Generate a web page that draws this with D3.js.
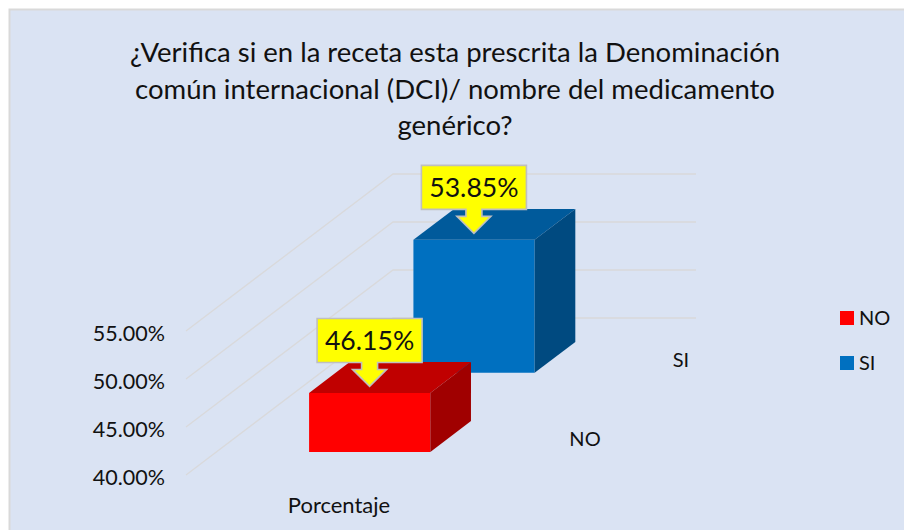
<!DOCTYPE html>
<html><head><meta charset="utf-8">
<script src="https://cdn.jsdelivr.net/npm/d3@7"></script>
<style>html,body{margin:0;padding:0;background:#fff;overflow:hidden}svg{display:block}text{font-family:Lato,"Open Sans",sans-serif;fill:#111}</style>
</head><body><div id="c"></div>
<script>
const seriesNames = ["NO", "SI"];
const seriesValues = [46.15, 53.85];
const category = ["Porcentaje"];
const yTicks = [40, 45, 50, 55];
const titleLines = ["¿Verifica si en la receta esta prescrita la Denominación", "común internacional (DCI)/ nombre del medicamento", "genérico?"];
const frontColors = ["#ff0000", "#0070c0"];
const topColors = ["#c00000", "#005a9b"];
const sideColors = ["#a00000", "#004a80"];

const svg = d3.select("#c").append("svg").attr("width", 904).attr("height", 530);
svg.append("rect").attr("x", 9.5).attr("y", 9.5).attr("width", 900).attr("height", 530)
  .attr("fill", "#dae3f3").attr("stroke", "#d9d9d9").attr("stroke-width", 2);

svg.append("g").selectAll("text").data(titleLines).join("text")
  .attr("x", 455).attr("y", (d, i) => 62 + i * 36.5).attr("text-anchor", "middle")
  .attr("font-size", 27.5).text(d => d);

// 3D projection: x along the category, y the value, z into the depth
const y = d3.scaleLinear().domain([40, 55]).range([475, 331]);
const xCat = d3.scaleBand().domain(category).range([0, 303]).paddingInner(0).paddingOuter(0.75).align(0.51);
const zDepth = d3.scaleBand().domain(seriesNames).range([0, 1]).paddingInner(0.61).paddingOuter(0.297).align(0.49);
const originX = 186, depthDx = 207, depthDy = -157;
const proj = (u, v, t) => [originX + u + t * depthDx, y(v) + t * depthDy];
const poly = pts => pts.map(p => p.join(",")).join(" ");

const grid = svg.append("g").attr("fill", "none").attr("stroke", "#d9d9d9").attr("stroke-width", 1.3).attr("opacity", 0.9);
yTicks.forEach(v => {
  grid.append("polyline").attr("points", poly([proj(0, v, 0), proj(0, v, 1), proj(303, v, 1)]));
});

const axis = d3.axisLeft(y).tickValues(yTicks).tickSize(0).tickPadding(0).tickFormat(d => d.toFixed(2) + "%");
const ax = svg.append("g").attr("transform", "translate(165,0)").call(axis);
ax.select(".domain").remove();
ax.selectAll("text").attr("font-size", 21.5).attr("dy", "0.42em").style("font-family", "Lato").style("fill", "#111");

// Bars, back series first
const u0 = xCat(category[0]) , u1 = u0 + xCat.bandwidth();
const bars = seriesNames.map((s, i) => ({s, i, v: seriesValues[i]}));
bars.slice().reverse().forEach(b => {
  const t0 = zDepth(b.s), t1 = t0 + zDepth.bandwidth();
  const g = svg.append("g");
  g.append("polygon").attr("fill", frontColors[b.i])
    .attr("points", poly([proj(u0, 40, t0), proj(u1, 40, t0), proj(u1, b.v, t0), proj(u0, b.v, t0)]));
  g.append("polygon").attr("fill", topColors[b.i])
    .attr("points", poly([proj(u0, b.v, t0), proj(u1, b.v, t0), proj(u1, b.v, t1), proj(u0, b.v, t1)]));
  g.append("polygon").attr("fill", sideColors[b.i])
    .attr("points", poly([proj(u1, 40, t0), proj(u1, 40, t1), proj(u1, b.v, t1), proj(u1, b.v, t0)]));
});

// Callouts
bars.forEach(b => {
  const [fx, fy] = proj(u0, b.v, zDepth(b.s));
  const tx = fx + 60.5, ty = fy - 6.5;
  const L = tx - 52.5, R = tx + 52.5, T = ty - 68, B = ty - 24;
  const path = d3.path();
  path.moveTo(L, T); path.lineTo(R, T); path.lineTo(R, B);
  path.lineTo(tx + 8, B); path.lineTo(tx + 8, ty - 17); path.lineTo(tx + 17, ty - 17);
  path.lineTo(tx, ty); path.lineTo(tx - 17, ty - 17); path.lineTo(tx - 8, ty - 17);
  path.lineTo(tx - 8, B); path.lineTo(L, B); path.closePath();
  svg.append("path").attr("d", path.toString()).attr("fill", "#ffff00").attr("stroke", "#bfbfbf").attr("stroke-width", 1.6);
  svg.append("text").attr("x", tx).attr("y", T + 32).attr("text-anchor", "middle")
    .attr("font-size", 26.6).text(b.v.toFixed(2) + "%");
});

// Category and series axis labels
svg.append("text").attr("x", 339).attr("y", 513).attr("text-anchor", "middle").attr("font-size", 22).text(category[0]);
bars.forEach(b => {
  svg.append("text").attr("x", b.i ? 681 : 585).attr("y", b.i ? 367 : 446)
    .attr("text-anchor", "middle").attr("font-size", 20).text(b.s);
});

// Legend
const lg = svg.append("g").selectAll("g").data(seriesNames).join("g")
  .attr("transform", (d, i) => `translate(840,${311 + i * 45})`);
lg.append("rect").attr("width", 14).attr("height", 14).attr("fill", (d, i) => frontColors[i]);
lg.append("text").attr("x", 19).attr("y", 14).attr("font-size", 20).text(d => d);
</script></body></html>
